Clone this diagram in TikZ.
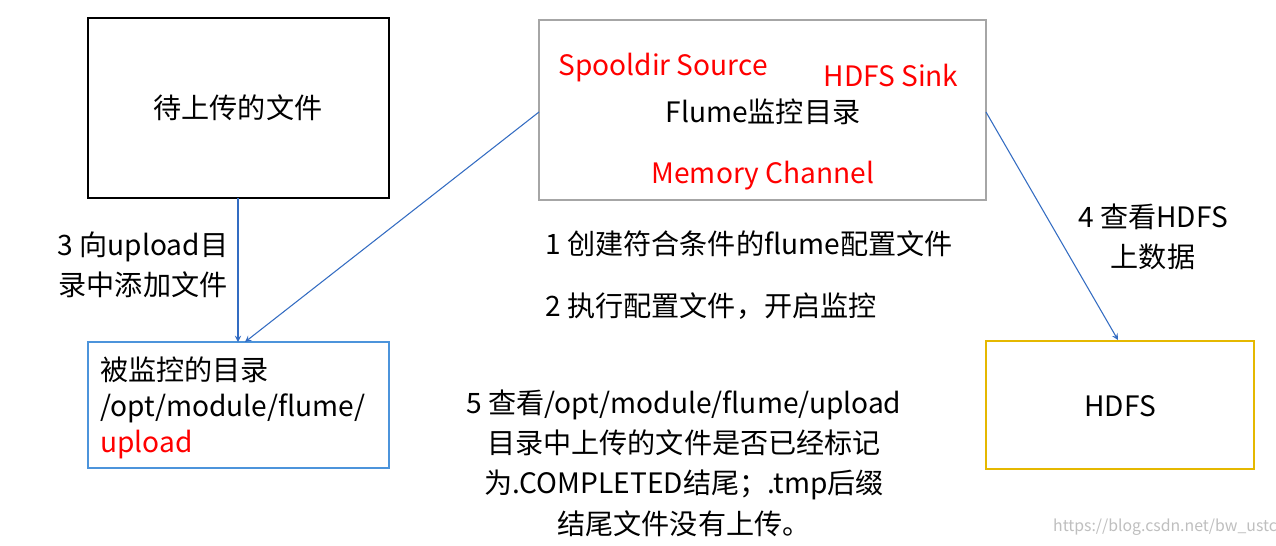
\documentclass[tikz,border=0pt]{standalone}
\usepackage{fontspec}
\setmainfont{Noto Sans CJK SC}
\begin{document}
\begin{tikzpicture}[x=0.02cm,y=-0.02cm,
  txt/.style={font=\fontsize{16}{19}\selectfont,inner sep=0pt},
  arr/.style={draw=blue!60!cyan!70!black!80,-stealth,line width=0.6pt},
  box/.style={line width=0.8pt}]
\useasboundingbox (0,0) rectangle (1276,545);
\fill[white] (0,0) rectangle (1276,545);
\draw[box,black] (88,18) rectangle (389,198);
\node[txt] (t1) at (238,108) {待上传的文件};
\draw[box,gray!70] (539,20) rectangle (986,200);
\coordinate (b2l) at (539,112); \coordinate (b2r) at (986,112);
\node[txt,red] (ss) at (663,68) {Spooldir Source};
\node[txt,red] (hs) at (891,75) {HDFS Sink};
\node[txt] (fm) at (763,112) {Flume监控目录};
\node[txt,red] (mc) at (763,176) {Memory Channel};
\draw[box,blue!50!cyan!80!black!70] (88,342) rectangle (389,468);
\node[txt,anchor=west] (l1) at (100,370) {被监控的目录};
\node[txt,anchor=west] (l2) at (100,408) {/opt/module/flume/};
\node[txt,anchor=west,red] (l3) at (100,445) {upload};
\draw[box,orange!40!yellow!90!black] (986,341) rectangle (1254,469);
\node[txt] (hd) at (1120,406) {HDFS};
\coordinate (b1b) at (238,198); \coordinate (b3t) at (238,342);
\coordinate (b3c) at (245,342); \coordinate (b4t) at (1118,340);
\draw[arr] (b1b) -- (b3t);
\draw[arr] (b2l) -- (b3c);
\draw[arr] (b2r) -- (b4t);
\node[txt,align=center] (s3) at (143,265) {3 向upload目\\[4pt]录中添加文件};
\node[txt] (s1) at (749,244) {1 创建符合条件的flume配置文件};
\node[txt] (s2) at (711,306) {2 执行配置文件，开启监控};
\node[txt,align=center] (s4) at (1153,237) {4 查看HDFS\\[4pt]上数据};
\node[txt,align=center] (s5) at (684,463) {5 查看/opt/module/flume/upload\\[4pt]目录中上传的文件是否已经标记\\[4pt]为.COMPLETED结尾；.tmp后缀\\[4pt]结尾文件没有上传。};
\node[font=\fontsize{9}{10}\selectfont,gray!50,inner sep=0pt] (wm) at (1165,527) {https://blog.csdn.net/bw\_ustc};
\end{tikzpicture}
\end{document}
